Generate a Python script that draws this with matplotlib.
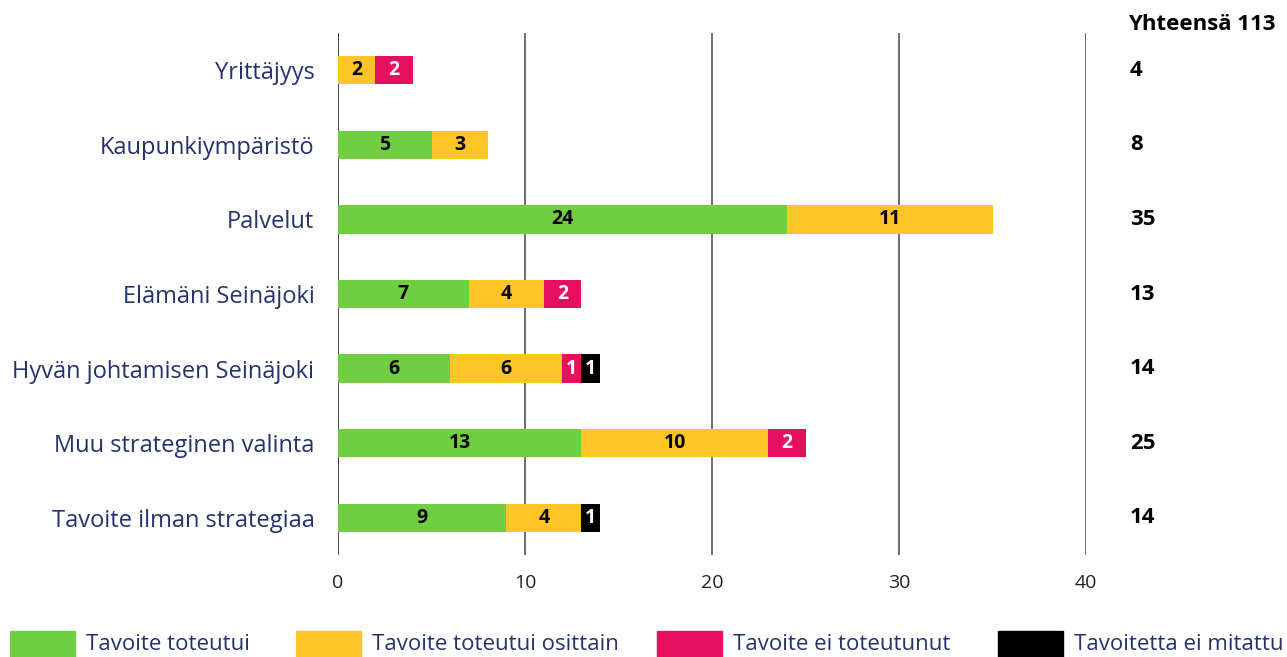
import numpy as np
import matplotlib.pyplot as plt
import matplotlib.transforms as mtransforms
from matplotlib.patches import Rectangle

# Tavoitteiden toteutuminen strategian osa-alueittain
categories = ["Yrittäjyys", "Kaupunkiympäristö", "Palvelut", "Elämäni Seinäjoki",
              "Hyvän johtamisen Seinäjoki", "Muu strateginen valinta",
              "Tavoite ilman strategiaa"]
toteutui = [0, 5, 24, 7, 6, 13, 9]
osittain = [2, 3, 11, 4, 6, 10, 4]
ei_toteutunut = [2, 0, 0, 2, 1, 2, 0]
ei_mitattu = [0, 0, 0, 0, 1, 0, 1]
totals = [4, 8, 35, 13, 14, 25, 14]
total_all = 113

series = [toteutui, osittain, ei_toteutunut, ei_mitattu]
labels = ["Tavoite toteutui", "Tavoite toteutui osittain",
          "Tavoite ei toteutunut", "Tavoitetta ei mitattu"]
colors = ["#72CE41", "#FFC425", "#E6105F", "#000000"]
text_colors = ["black", "black", "white", "white"]
navy = "#24336E"

plt.rcParams['font.family'] = ['Open Sans', 'DejaVu Sans']

fig = plt.figure(figsize=(12.87, 6.57), dpi=100)
ax = fig.add_axes([338 / 1287, 1 - 555 / 657, (1086 - 338) / 1287, (555 - 33) / 657])

y = np.arange(len(categories))
left = np.zeros(len(categories))
for vals, col, tcol in zip(series, colors, text_colors):
    vals = np.array(vals)
    bars = ax.barh(y, vals, left=left, height=0.38, color=col, zorder=3)
    lbls = [str(v) if v > 0 else "" for v in vals]
    ax.bar_label(bars, labels=lbls, label_type='center', color=tcol,
                 fontsize=14, fontweight='bold')
    left += vals

ax.set_xlim(0, 40)
ax.set_ylim(6.5, -0.5)
ax.set_xticks([0, 10, 20, 30, 40])
ax.set_yticks(y)
ax.set_yticklabels(categories, color=navy, fontsize=17)
ax.tick_params(axis='y', length=0, pad=17)
ax.tick_params(axis='x', length=0, pad=14, labelsize=14, labelcolor="#222222")
for s in ax.spines.values():
    s.set_visible(False)
for xv in [0, 10, 20, 30, 40]:
    ax.axvline(xv, color="#222222" if xv == 0 else "#555555", lw=1.2, zorder=1)

# totals column on the right
tr = mtransforms.blended_transform_factory(fig.transFigure, ax.transData)
for yi, t in zip(y, totals):
    ax.text(1130 / 1287, yi, str(t), transform=tr, ha='left', va='center',
            fontsize=16, fontweight='bold')
fig.text(1128 / 1287, 1 - 25 / 657, f"Yhteensä {total_all}", ha='left', va='center',
         fontsize=16, fontweight='bold')

# legend along the bottom
leg_x = [10, 296, 657, 998]
for lx, lab, col in zip(leg_x, labels, colors):
    fig.add_artist(Rectangle((lx / 1287, 0), 65 / 1287, 26 / 657,
                             transform=fig.transFigure, color=col))
    fig.text((lx + 76) / 1287, 1 - 645 / 657, lab, ha='left', va='center',
             fontsize=16, color=navy)

fig.savefig("out.png", dpi=100)
